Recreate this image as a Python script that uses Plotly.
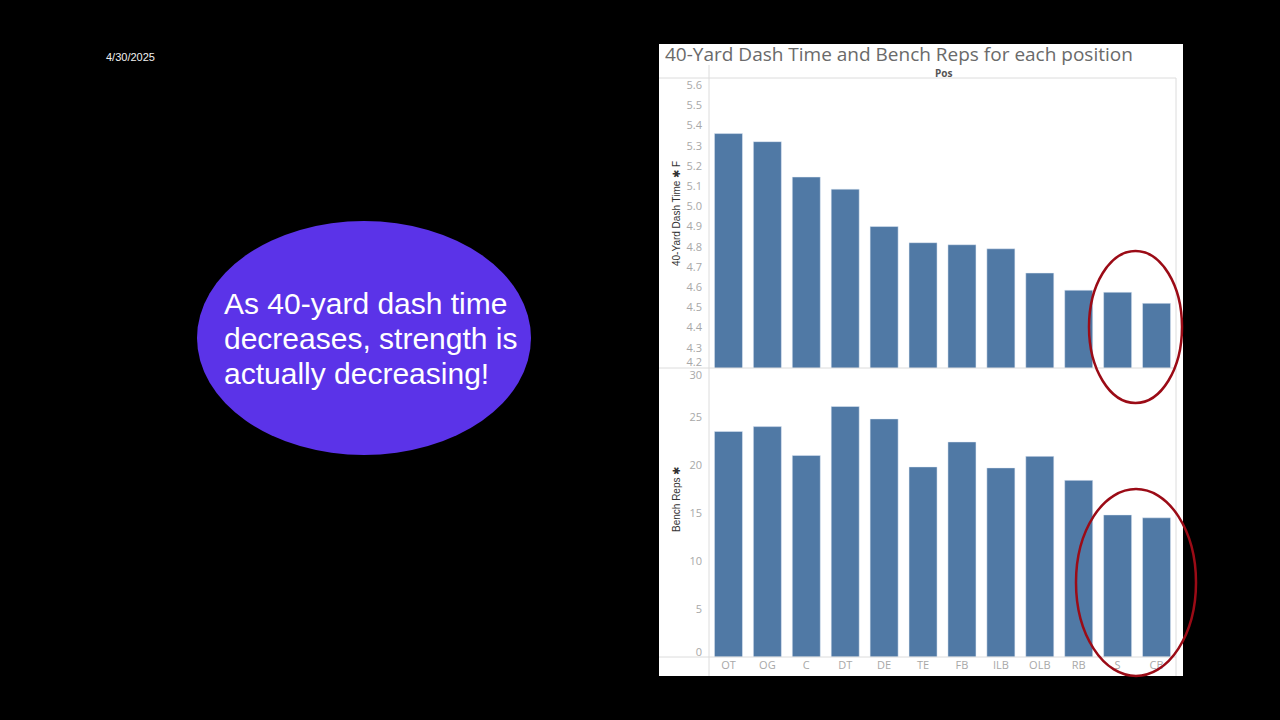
import plotly.graph_objects as go

W, H = 1280, 720
positions = ["OT", "OG", "C", "DT", "DE", "TE", "FB", "ILB", "OLB", "RB", "S", "CB"]
dash_time = [5.36, 5.32, 5.145, 5.085, 4.90, 4.82, 4.81, 4.79, 4.67, 4.585, 4.575, 4.52]
bench_reps = [23.5, 24.0, 21.0, 26.1, 24.8, 19.8, 22.4, 19.7, 20.9, 18.4, 14.8, 14.5]
dash_ticks = [4.3, 4.4, 4.5, 4.6, 4.7, 4.8, 4.9, 5.0, 5.1, 5.2, 5.3, 5.4, 5.5, 5.6]
dash_edge_tick = [4.2]
bench_ticks = [5, 10, 15, 20, 25]
bench_low_tick = [0]
bench_high_tick = [30]
callout_lines = ["As 40-yard dash time", "decreases, strength is", "actually decreasing!"]

def px(x):
    return x / W

def py(y):
    return 1 - y / H

bar_color = "#5079A5"
tick_font = dict(family="Open Sans", size=11, color="#a8a8a8")
dash_range = [4.2, 5.635]
bench_range = [0, 30]
cat_range = [-0.5, len(positions) - 0.5]

common_y = dict(showgrid=False, zeroline=False, tickfont=tick_font, ticks="", ticklabelstandoff=6,
                automargin=False, fixedrange=True)

fig = go.Figure()
fig.add_trace(go.Bar(x=positions, y=dash_time, marker_color=bar_color, xaxis="x", yaxis="y",
                     showlegend=False))
fig.add_trace(go.Bar(x=positions, y=bench_reps, marker_color=bar_color, xaxis="x2", yaxis="y2",
                     showlegend=False))
# invisible helper traces so the edge-tick overlay axes are drawn
for yax, vals, xax in [("y3", dash_time, "x"), ("y4", bench_reps, "x2"), ("y5", bench_reps, "x2")]:
    fig.add_trace(go.Scatter(x=positions, y=vals, xaxis=xax, yaxis=yax, mode="markers",
                             marker=dict(opacity=0, size=1), hoverinfo="skip", showlegend=False))

xdom = [px(709), px(1176)]
top_dom = [py(368), py(78)]
bot_dom = [py(657), py(369)]
fig.update_layout(
    width=W, height=H,
    margin=dict(l=0, r=0, t=0, b=0, pad=0),
    paper_bgcolor="black",
    plot_bgcolor="white",
    bargap=0.28,
    xaxis=dict(domain=xdom, anchor="y", range=cat_range, showticklabels=False, showgrid=False,
               zeroline=False, showline=False, fixedrange=True, automargin=False),
    yaxis=dict(domain=top_dom, range=dash_range, anchor="x", tickvals=dash_ticks,
               ticktext=[f"{v:.1f}" for v in dash_ticks], **common_y),
    yaxis3=dict(domain=top_dom, range=dash_range, anchor="x", overlaying="y", side="left",
                tickvals=dash_edge_tick, ticktext=[f"{v:.1f}" for v in dash_edge_tick],
                ticklabelshift=-6, **common_y),
    xaxis2=dict(domain=xdom, anchor="y2", range=cat_range, showgrid=False, zeroline=False,
                showline=False, tickfont=tick_font, ticks="", automargin=False, fixedrange=True),
    yaxis2=dict(domain=bot_dom, range=bench_range, anchor="x2", tickvals=bench_ticks, **common_y),
    yaxis4=dict(domain=bot_dom, range=bench_range, anchor="x2", overlaying="y2", side="left",
                tickvals=bench_low_tick, ticklabelshift=-5, **common_y),
    yaxis5=dict(domain=bot_dom, range=bench_range, anchor="x2", overlaying="y2", side="left",
                tickvals=bench_high_tick, ticklabelshift=6, **common_y),
)

shapes = []
shapes.append(dict(type="rect", xref="paper", yref="paper", x0=px(659), x1=px(1183), y0=py(676), y1=py(44),
                   fillcolor="white", line=dict(width=0), layer="below"))
grey = "#dcdcdc"
for (x0, y0, x1, y1) in [(709, 78, 709, 676), (1176, 78, 1176, 676), (659, 78, 1176, 78),
                         (659, 368, 1176, 368), (659, 657, 1176, 657), (709, 65, 709, 78)]:
    shapes.append(dict(type="line", xref="paper", yref="paper", x0=px(x0), x1=px(x1), y0=py(y0), y1=py(y1),
                       line=dict(color=grey, width=1), layer="above"))
shapes.append(dict(type="circle", xref="paper", yref="paper", x0=px(197), x1=px(531), y0=py(455), y1=py(221),
                   fillcolor="#5B33E8", line=dict(width=0), layer="below"))
red = "#9B0B16"
shapes.append(dict(type="circle", xref="paper", yref="paper", x0=px(1089), x1=px(1182), y0=py(403), y1=py(251),
                   line=dict(color=red, width=2.5), layer="above"))
shapes.append(dict(type="circle", xref="paper", yref="paper", x0=px(1076), x1=px(1196), y0=py(676), y1=py(489),
                   line=dict(color=red, width=2.5), layer="above"))
fig.update_layout(shapes=shapes)

ann = []
ann.append(dict(text="40-Yard Dash Time and Bench Reps for each position", xref="paper", yref="paper",
                x=px(663), y=py(54), xanchor="left", yanchor="middle", showarrow=False,
                font=dict(family="Open Sans", size=19, color="#6a6a6a")))
ann.append(dict(text="<b>Pos</b>", xref="paper", yref="paper", x=px(943), y=py(73), xanchor="center",
                yanchor="middle", showarrow=False, font=dict(family="Open Sans", size=10, color="#555555")))
ann.append(dict(text="40-Yard Dash Time \u2731 F", xref="paper", yref="paper", x=px(676), y=py(214),
                xanchor="center", yanchor="middle", textangle=-90, showarrow=False,
                font=dict(family="Liberation Sans Narrow, Liberation Sans", size=10, color="#333333")))
ann.append(dict(text="Bench Reps \u2731", xref="paper", yref="paper", x=px(676), y=py(500),
                xanchor="center", yanchor="middle", textangle=-90, showarrow=False,
                font=dict(family="Liberation Sans Narrow, Liberation Sans", size=10, color="#333333")))
ann.append(dict(text="4/30/2025", xref="paper", yref="paper", x=px(104), y=py(57), xanchor="left",
                yanchor="middle", showarrow=False, font=dict(family="Liberation Sans", size=11, color="#f0f0f0")))
for i, line in enumerate(callout_lines):
    ann.append(dict(text=line, xref="paper", yref="paper", x=px(222), y=py(303 + 35 * i), xanchor="left",
                    yanchor="middle", showarrow=False,
                    font=dict(family="Liberation Sans", size=30, color="white")))
fig.update_layout(annotations=ann)

fig.write_html("out.html")
